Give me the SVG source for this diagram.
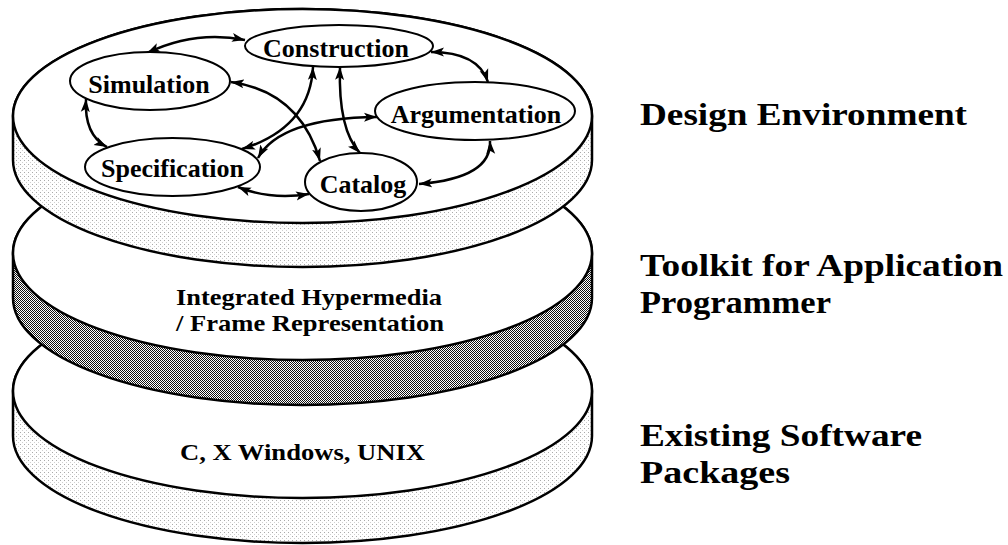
<svg xmlns="http://www.w3.org/2000/svg" width="1008" height="545" viewBox="0 0 1008 545">
<style>
.disk{stroke:#000;stroke-width:2.5;}
.top{fill:#fff;stroke:#000;stroke-width:2.5;}
.node{fill:#fff;stroke:#000;stroke-width:2;}
.nt{font-family:"Liberation Serif","Times New Roman",serif;font-weight:bold;font-size:26px;fill:#000;text-anchor:middle;}
.it{font-family:"Liberation Serif","Times New Roman",serif;font-weight:bold;font-size:24px;fill:#000;text-anchor:middle;}
.lab{font-family:"Liberation Serif","Times New Roman",serif;font-weight:bold;font-size:32px;fill:#000;}
.con{fill:none;stroke:#000;stroke-width:2.5;marker-start:url(#ah);marker-end:url(#ah);}
</style>
<defs>
<pattern id="light" width="4" height="4" patternUnits="userSpaceOnUse">
<rect width="4" height="4" fill="#fff"/>
<rect x="0" y="0" width="1" height="1" fill="#aaa"/>
<rect x="2" y="2" width="1" height="1" fill="#d0d0d0"/>
</pattern>
<pattern id="dark" width="2" height="2" patternUnits="userSpaceOnUse">
<rect width="2" height="2" fill="#fff"/>
<rect x="0" y="0" width="1" height="1" fill="#111"/>
<rect x="1" y="1" width="1" height="1" fill="#111"/>
</pattern>
<marker id="ah" markerUnits="userSpaceOnUse" markerWidth="14" markerHeight="10" refX="13" refY="4.5" orient="auto-start-reverse" viewBox="0 0 14 9">
<path d="M0,0 L13,4.5 L0,9 L3,4.5 z" fill="#000"/>
</marker>
</defs>

<g id="disk-bottom">
<path class="disk" fill="url(#light)" d="M13,391 L13,436 A289.5,107 0 0 0 592,436 L592,391 A289.5,107 0 0 0 13,391 z"/>
<ellipse class="top" cx="302.5" cy="391" rx="289.5" ry="107"/>
<text class="it" x="302.5" y="460" textLength="245" lengthAdjust="spacingAndGlyphs">C, X Windows, UNIX</text>
</g>

<g id="disk-middle">
<path class="disk" fill="url(#dark)" d="M13,253 L13,298 A289.5,107 0 0 0 592,298 L592,253 A289.5,107 0 0 0 13,253 z"/>
<ellipse class="top" cx="302.5" cy="253" rx="289.5" ry="107"/>
<text class="it" x="309" y="305" textLength="266" lengthAdjust="spacingAndGlyphs">Integrated Hypermedia</text>
<text class="it" x="310" y="331" textLength="268" lengthAdjust="spacingAndGlyphs">/ Frame Representation</text>
</g>

<g id="disk-top">
<path class="disk" fill="url(#light)" d="M13,116 L13,160 A289.5,107 0 0 0 592,160 L592,116 A289.5,107 0 0 0 13,116 z"/>
<ellipse class="top" cx="302.5" cy="116" rx="289.5" ry="107"/>
</g>

<g id="connectors">
<path class="con" d="M147,53 Q195,30 245,40"/>
<path class="con" d="M86,99 Q84,135 107,147"/>
<path class="con" d="M231,82 Q300,92 320,161"/>
<path class="con" d="M313,67 Q310,128 242,149"/>
<path class="con" d="M258,158 Q280,118 377,117"/>
<path class="con" d="M340,67 Q338,130 360,153"/>
<path class="con" d="M431,52 Q478,52 488,82"/>
<path class="con" d="M490,141 Q492,178 419,184"/>
<path class="con" d="M238,187 Q270,200 309,194"/>
</g>

<g id="node-construction">
<ellipse class="node" cx="339" cy="46" rx="94" ry="21"/>
<text class="nt" x="336" y="57">Construction</text>
</g>
<g id="node-simulation">
<ellipse class="node" cx="150" cy="81" rx="80" ry="29"/>
<text class="nt" x="149" y="93">Simulation</text>
</g>
<g id="node-specification">
<ellipse class="node" cx="172.5" cy="167" rx="87.5" ry="29"/>
<text class="nt" x="172.5" y="177">Specification</text>
</g>
<g id="node-argumentation">
<ellipse class="node" cx="475" cy="111" rx="100" ry="29"/>
<text class="nt" x="476" y="123">Argumentation</text>
</g>
<g id="node-catalog">
<ellipse class="node" cx="361" cy="182" rx="56" ry="29"/>
<text class="nt" x="363" y="193">Catalog</text>
</g>

<g id="labels">
<text class="lab" x="640" y="125" textLength="327" lengthAdjust="spacingAndGlyphs">Design Environment</text>
<text class="lab" x="640" y="276" textLength="363" lengthAdjust="spacingAndGlyphs">Toolkit for Application</text>
<text class="lab" x="640" y="313" textLength="191" lengthAdjust="spacingAndGlyphs">Programmer</text>
<text class="lab" x="640" y="446" textLength="282" lengthAdjust="spacingAndGlyphs">Existing Software</text>
<text class="lab" x="640" y="483" textLength="150" lengthAdjust="spacingAndGlyphs">Packages</text>
</g>
</svg>
